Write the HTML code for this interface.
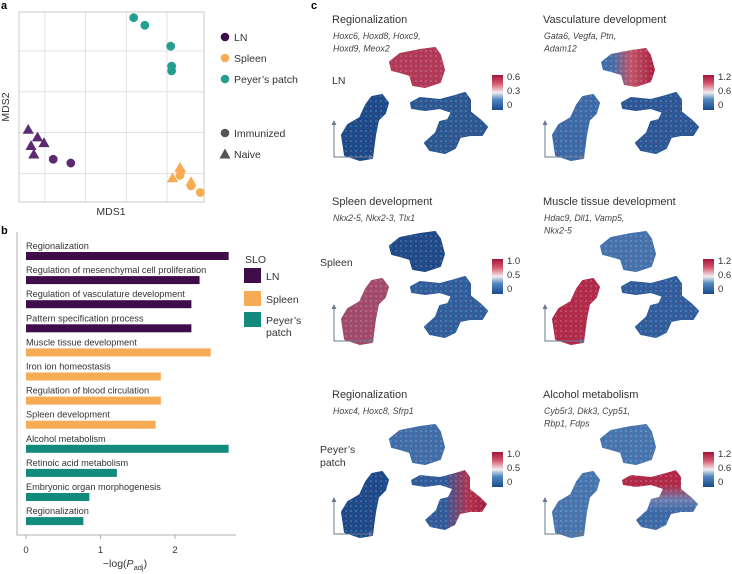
<!DOCTYPE html>
<html><head><meta charset="utf-8"><style>
html,body{margin:0;padding:0;background:#fff;}
svg{display:block;font-family:"Liberation Sans",sans-serif;}
</style></head><body>
<svg id="fig" width="732" height="574" viewBox="0 0 732 574">
<defs>
<linearGradient id="cbar" x1="0" y1="1" x2="0" y2="0">
<stop offset="0" stop-color="#1a4b8c"/><stop offset="0.3" stop-color="#4f86c0"/><stop offset="0.5" stop-color="#f2eef0"/><stop offset="0.75" stop-color="#d65a6e"/><stop offset="1" stop-color="#a0143a"/></linearGradient>
<linearGradient id="gLR" x1="0" y1="0" x2="1" y2="0"><stop offset="0.2" stop-color="#3e6fac"/><stop offset="0.55" stop-color="#c0566c"/><stop offset="1" stop-color="#a8203f"/></linearGradient>
<linearGradient id="gLR2" x1="0" y1="0" x2="1" y2="0"><stop offset="0.45" stop-color="#2e5c9a"/><stop offset="0.75" stop-color="#b03350"/><stop offset="1" stop-color="#a51c3d"/></linearGradient>
<linearGradient id="gTB" x1="0" y1="0" x2="0" y2="1"><stop offset="0.25" stop-color="#b02a48"/><stop offset="0.5" stop-color="#6a7fb0"/><stop offset="0.7" stop-color="#3a6aa8"/></linearGradient>
<pattern id="speck" width="5" height="5" patternUnits="userSpaceOnUse"><circle cx="1" cy="1" r="0.8" fill="#fff" opacity="0.35"/><circle cx="3.5" cy="3.2" r="0.7" fill="#c03050" opacity="0.3"/></pattern>
</defs>
<text x="1" y="9" font-size="11" font-weight="bold">a</text>
<text x="1" y="234" font-size="11" font-weight="bold">b</text>
<text x="311" y="9" font-size="11" font-weight="bold">c</text>
<g id="panelA"></g>
<g id="panelB"></g>
<g id="panelC"></g>
</svg>
<script>
const NS="http://www.w3.org/2000/svg";
function mk(p,t,a,txt){const e=document.createElementNS(NS,t);for(const k in a)e.setAttribute(k,a[k]);if(txt!==undefined)e.textContent=txt;p.appendChild(e);return e;}

/* ---------- Panel a data ---------- */
const mdsGroups=["LN","LN","LN","LN","LN","LN","LN","Spleen","Spleen","Spleen","Spleen","Spleen","Spleen","Spleen","PP","PP","PP","PP","PP"];
const mdsCond=["T","T","T","T","T","I","I","I","I","I","I","T","T","T","I","I","I","I","I"];
const mds1=[5,10,13.5,6.5,8,18.5,28,87,93,98,87.5,87,83,93,62,68,82,82.5,82.5];
const mds2=[38,34,31,29.5,25,22.5,20.5,14,8.5,5,16,18,12.5,10.5,97,93,82,71.5,69];
const A=document.getElementById('panelA');
const ax={l:19,t:12,r:204,b:202};
const sx=v=>ax.l+v/100*(ax.r-ax.l), sy=v=>ax.b-v/100*(ax.b-ax.t);
const grid=mk(A,'g',{});
[14,36,58,80].forEach(v=>{const l=mk(grid,'line',{x1:sx(v),x2:sx(v),y1:ax.t,y2:ax.b,stroke:'#dcdcdc','stroke-width':0.8});});
[15,36.5,58,79.5].forEach(v=>{const l=mk(grid,'line',{x1:ax.l,x2:ax.r,y1:sy(v),y2:sy(v),stroke:'#dcdcdc','stroke-width':0.8});});
const frame=mk(A,'rect',{x:ax.l,y:ax.t,width:ax.r-ax.l,height:ax.b-ax.t,fill:'none',stroke:'#bfbfbf','stroke-width':0.8});

const colA={LN:'#5c2a72',Spleen:'#f7ab55',PP:'#249e8e'};
for(let i=0;i<mds1.length;i++){
  const x=sx(mds1[i]),y=sy(mds2[i]);let m;
  if(mdsCond[i]==='I'){m=mk(A,'circle',{cx:x,cy:y,r:4.4,fill:colA[mdsGroups[i]]});}
  else{m=mk(A,'polygon',{points:`${x},${y-5.8} ${x-5.6},${y+4} ${x+5.6},${y+4}`,fill:colA[mdsGroups[i]]});}
  
}
let t=mk(A,'text',{x:111,y:215,'font-size':10.5,'text-anchor':'middle',fill:'#333'},'MDS1');
t=mk(A,'text',{x:9,y:107,'font-size':10.5,'text-anchor':'middle',fill:'#333',transform:'rotate(-90 9 107)'},'MDS2');
const legA=[["LN",'#3f0d4a',37],["Spleen",'#f7ab55',58],["Peyer’s patch",'#249e8e',79]];
legA.forEach(d=>{const g=mk(A,'g',{});
 mk(g,'circle',{cx:225,cy:d[2],r:4.3,fill:d[1]});mk(g,'text',{x:234,y:d[2]+4,'font-size':10.5,fill:'#333'},d[0]);});
let g=mk(A,'g',{});
mk(g,'circle',{cx:225,cy:133,r:4.3,fill:'#555'});mk(g,'text',{x:234,y:137,'font-size':10.5,fill:'#333'},'Immunized');
g=mk(A,'g',{});
mk(g,'polygon',{points:'225,148.5 219.5,158.5 230.5,158.5',fill:'#555'});mk(g,'text',{x:234,y:158,'font-size':10.5,fill:'#333'},'Naive');

/* ---------- Panel b data ---------- */
const terms=["Regionalization","Regulation of mesenchymal cell proliferation","Regulation of vasculature development","Pattern specification process","Muscle tissue development","Iron ion homeostasis","Regulation of blood circulation","Spleen development","Alcohol metabolism","Retinoic acid metabolism","Embryonic organ morphogenesis","Regionalization"];
const termValues=[2.72,2.33,2.22,2.22,2.48,1.81,1.81,1.74,2.72,1.22,0.85,0.77];
const termSLO=["LN","LN","LN","LN","Spleen","Spleen","Spleen","Spleen","PP","PP","PP","PP"];
const xTicks=[0,1,2];
const B=document.getElementById('panelB');
const colB={LN:'#3f0d4a',Spleen:'#f7ab55',PP:'#138a7e'};
const bx=v=>26+v*74.5;
const axl=mk(B,'path',{d:'M17,232 V535 H236',fill:'none',stroke:'#999','stroke-width':0.8});
terms.forEach((tm,i)=>{const y0=252+i*24.1;
 const r=mk(B,'rect',{x:bx(0),y:y0,width:bx(termValues[i])-bx(0),height:8,fill:colB[termSLO[i]]});
 const l=mk(B,'text',{x:26,y:y0-3,'font-size':9.2,fill:'#333'},tm);});
xTicks.forEach(v=>{mk(B,'line',{x1:bx(v),x2:bx(v),y1:535,y2:539,stroke:'#999','stroke-width':0.8});
 const l=mk(B,'text',{x:bx(v),y:553,'font-size':9.5,'text-anchor':'middle',fill:'#333'},String(v));});
t=mk(B,'text',{x:125,y:567,'font-size':10.5,'text-anchor':'middle',fill:'#333'});
t.innerHTML='−log(<tspan font-style="italic">P</tspan><tspan font-size="7.5" dy="3">adj</tspan><tspan dy="-3">)</tspan>';
t=mk(B,'text',{x:245,y:263,'font-size':10.5,fill:'#333'},'SLO');
[["LN",'#3f0d4a',268],["Spleen",'#f7ab55',291],["Peyer’s",'#138a7e',312]].forEach(d=>{const g=mk(B,'g',{});
 mk(g,'rect',{x:244,y:d[2],width:17,height:15,fill:d[1]});mk(g,'text',{x:266,y:d[2]+12,'font-size':10.5,fill:'#333'},d[0]);});
mk(B,'text',{x:266,y:336,'font-size':10.5,fill:'#333'},'patch');

/* ---------- Panel c ---------- */
const C=document.getElementById('panelC');
const topBlob=[[56,-95],[66,-103],[86,-107],[101,-109],[106,-102],[110,-87],[106,-75],[91,-70],[79,-72],[76,-82],[66,-85],[58,-87]];
const leftBlob=[[38,-60],[48,-62],[54,-54],[51,-44],[44,-37],[41,-22],[38,1],[26,3],[11,-2],[8,-22],[14,-32],[26,-39],[32,-52]];
const rightBlob=[[77,-54],[86,-59],[106,-57],[121,-61],[131,-64],[136,-57],[136,-45],[146,-37],[153,-30],[148,-22],[136,-22],[126,-20],[121,-9],[111,-4],[96,-7],[91,-14],[102,-24],[106,-35],[114,-37],[118,-45],[106,-49],[91,-47],[78,-49]];
const panels=[
 {ox:334,oy:157,title:"Regionalization",genes:["Hoxc6, Hoxd8, Hoxc9,","Hoxd9, Meox2"],cb:["0.6","0.3","0"],row:"LN",fills:['#b03a58','#1b4a8a','#295892']},
 {ox:545,oy:157,title:"Vasculature development",genes:["Gata6, Vegfa, Ptn,","Adam12"],cb:["1.2","0.6","0"],fills:['url(#gLR)','#3b6aa8','#2a5896']},
 {ox:334,oy:341,title:"Spleen development",genes:["Nkx2-5, Nkx2-3, Tlx1"],cb:["1.0","0.5","0"],row:"Spleen",fills:['#1d4a88','#a04a6c','#2f5e9c']},
 {ox:545,oy:341,title:"Muscle tissue development",genes:["Hdac9, Dll1, Vamp5,","Nkx2-5"],cb:["1.2","0.6","0"],fills:['#4473ad','#b02a4a','#2f5e9e']},
 {ox:334,oy:534,title:"Regionalization",genes:["Hoxc4, Hoxc8, Sfrp1"],cb:["1.0","0.5","0"],row:"Peyer’s|patch",fills:['#3f6ea9','#1b4a8a','url(#gLR2)']},
 {ox:545,oy:534,title:"Alcohol metabolism",genes:["Cyb5r3, Dkk3, Cyp51,","Rbp1, Fdps"],cb:["1.2","0.6","0"],fills:['#4676b0','#4676b0','url(#gTB)']}
];
const titleY=[19,201,394];
panels.forEach((p,i)=>{
 const g=mk(C,'g',{});
 const ty=titleY[Math.floor(i/2)]+4, tx=p.ox-2;
 let e=mk(g,'text',{x:tx,y:ty,'font-size':11,fill:'#333'},p.title);
 p.genes.forEach((gn,j)=>{const e=mk(g,'text',{x:p.ox-1,y:ty+16+j*12.5,'font-size':8.8,'font-style':'italic',fill:'#444'},gn);});
 [topBlob,leftBlob,rightBlob].forEach((b,k)=>{
  const pts=b.map(q=>(p.ox+q[0])+','+(p.oy+q[1])).join(' ');
  const s=mk(g,'polygon',{points:pts,fill:p.fills[k],'stroke':p.fills[k].startsWith('url')?'none':p.fills[k],'stroke-width':2,'stroke-linejoin':'round'});
  
  mk(g,'polygon',{points:pts,fill:'url(#speck)'});
 });
 const ar=mk(g,'path',{d:`M${p.ox},${p.oy-35} V${p.oy} H${p.ox+38}`,fill:'none',stroke:'#6a7890','stroke-width':1});
 mk(g,'path',{d:`M${p.ox-2.5},${p.oy-32} L${p.ox},${p.oy-37} L${p.ox+2.5},${p.oy-32}Z M${p.ox+35},${p.oy-2.5} L${p.ox+40},${p.oy} L${p.ox+35},${p.oy+2.5}Z`,fill:'#6a7890'});
 const cx=p.ox+158, cy=p.oy-82;
 e=mk(g,'rect',{x:cx,y:cy,width:11,height:35,fill:'url(#cbar)'});
 p.cb.forEach((l,j)=>{const e=mk(g,'text',{x:cx+15,y:cy+5+j*14,'font-size':9.5,fill:'#333'},l);});
 if(p.row){const parts=p.row.split('|');parts.forEach((r,j)=>{const e=mk(g,'text',{x:p.ox-14+(parts.length>1||r==='Spleen'?0:12),y:p.oy-(parts.length>1?81:73)+j*13+(r==='Spleen'?-2:0),'font-size':10.5,fill:'#333'},r);});}
});
</script>
</body></html>
